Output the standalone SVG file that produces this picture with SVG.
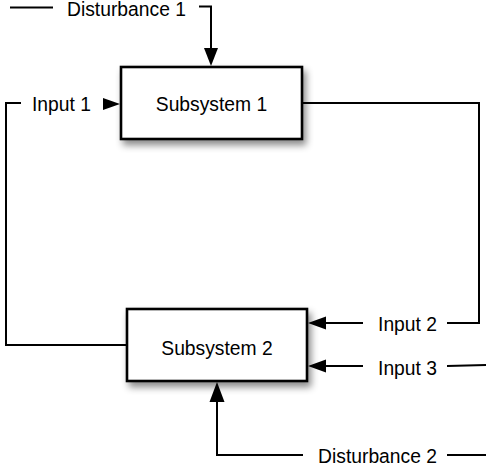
<svg xmlns="http://www.w3.org/2000/svg" width="486" height="470" viewBox="0 0 486 470">
  <defs>
    <filter id="shadow" x="-20%" y="-20%" width="150%" height="160%">
      <feDropShadow dx="3" dy="5" stdDeviation="3.5" flood-color="#000" flood-opacity="0.45"/>
    </filter>
  </defs>
  <style>
    .box { fill: #ffffff; stroke: #000; stroke-width: 2.6; filter: url(#shadow); }
    .line { fill: none; stroke: #000; stroke-width: 2; }
    .head { fill: #000; stroke: none; }
    text { font-family: "Liberation Sans", Arial, Helvetica, sans-serif; font-size: 19.3px; fill: #000; }
  </style>
  <rect width="486" height="470" fill="#ffffff"/>

  <g id="connectors">
    <path class="line" d="M10,7.5 H53"/>
    <path class="line" d="M199,6.5 H211 V49"/>
    <polygon class="head" points="204,48 218,48 211,66"/>
    <path class="line" d="M21,103 H6 V345 H127"/>
    <polygon class="head" points="103,98 103,110 120,104"/>
    <path class="line" d="M302,103 H479 V323 H447"/>
    <path class="line" d="M363,323 H325"/>
    <polygon class="head" points="326,316.5 326,329.5 308,323"/>
    <path class="line" d="M486,365 L447,366"/>
    <path class="line" d="M363,366 H325"/>
    <polygon class="head" points="326,359.5 326,372.5 308,366"/>
    <path class="line" d="M486,455 H447"/>
    <path class="line" d="M303,455 H217 V401"/>
    <polygon class="head" points="209.5,402 224.5,402 217,382"/>
  </g>

  <g id="subsystem1">
    <rect class="box" x="121" y="67" width="181" height="72"/>
    <text x="211.5" y="111" text-anchor="middle">Subsystem 1</text>
  </g>
  <g id="subsystem2">
    <rect class="box" x="127" y="309" width="180" height="72"/>
    <text x="217" y="355" text-anchor="middle">Subsystem 2</text>
  </g>

  <g id="labels">
    <text id="disturbance1" x="67" y="16">Disturbance 1</text>
    <text id="input1" x="32" y="111">Input 1</text>
    <text id="input2" x="437" y="331" text-anchor="end">Input 2</text>
    <text id="input3" x="437" y="375" text-anchor="end">Input 3</text>
    <text id="disturbance2" x="437" y="463" text-anchor="end">Disturbance 2</text>
  </g>
</svg>
